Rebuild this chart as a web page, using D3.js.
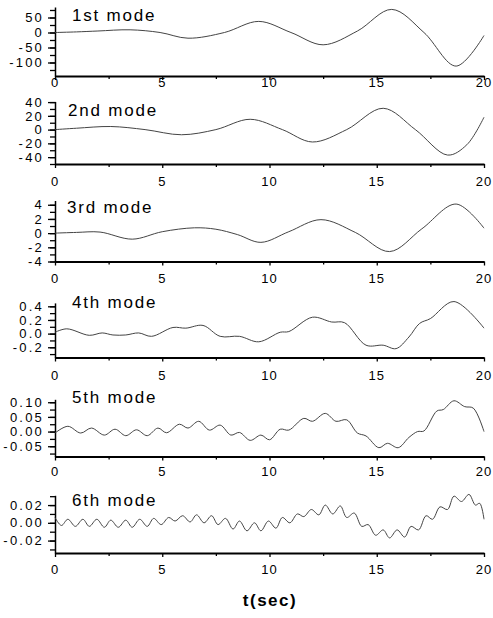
<!DOCTYPE html>
<meta charset="utf-8">
<script src="https://d3js.org/d3.v7.min.js"></script>
<style>
  body { margin: 0; background: #fff; }
  text { font-family: "Liberation Sans", Arial, sans-serif; fill: #000; }
</style>
<svg id="chart" width="493" height="618"></svg>
<script>
  // time axis
  var xTickVals = [0, 5, 10, 15, 20];
  var xMinorVals = [2.5, 7.5, 12.5, 17.5];

  var titles = ["1st mode", "2nd mode", "3rd mode", "4th mode", "5th mode", "6th mode"];

  // y axes: bounds, labelled ticks, minor step
  var yDomains = [[-145, 85], [-50, 41], [-4, 4.6], [-0.35, 0.45], [-0.085, 0.11], [-0.034, 0.031]];
  var yMajor = [[50, 0, -50, -100], [40, 20, 0, -20, -40], [4, 2, 0, -2, -4], [0.4, 0.2, 0, -0.2], [0.1, 0.05, 0, -0.05], [0.02, 0, -0.02]];
  var yLabels = [["50", "0", "-50", "-100"], ["40", "20", "0", "-20", "-40"], ["4", "2", "0", "-2", "-4"],
                 ["0.4", "0.2", "0.0", "-0.2"], ["0.10", "0.05", "0.00", "-0.05"], ["0.02", "0.00", "-0.02"]];
  var yMinorStep = [25, 10, 1, 0.1, 0.025, 0.01];

  // modal responses
  var t1 = [0, 1, 2, 3.5, 4.9, 6.2, 7.9, 9.5, 11.0, 12.5, 14.1, 15.7, 17.2, 18.7, 20];
  var v1 = [0, 2, 5, 9, 0, -19, 0, 37, 0, -41, 5, 77, 0, -112, -10];

  var t2 = [0, 1, 2.6, 4.2, 5.9, 7.5, 9.1, 10.6, 12.0, 13.6, 15.3, 16.8, 18.3, 19.2, 20];
  var v2 = [0, 2, 4.5, 0, -7.5, 0, 15, 0, -18, 0, 31, 0, -37, -22, 18];

  var t3 = [0, 1.0, 2.1, 3.6, 5.0, 6.5, 7.5, 8.5, 9.6, 10.9, 12.4, 14.0, 15.6, 17.1, 18.7, 20];
  var v3 = [0, 0.1, 0.15, -0.85, 0.2, 0.75, 0.55, -0.2, -1.3, 0.2, 1.9, 0.1, -2.6, 0.6, 4.1, 0.7];

  var t4 = [0, 0.55, 1.6, 2.2, 2.7, 3.3, 3.9, 4.5, 5.5, 6.1, 6.9, 7.7, 8.6, 9.5, 10.5, 10.9, 12.0, 12.9, 13.5,
            14.5, 15.3, 15.9, 16.5, 17.0, 17.5, 18.6, 20];
  var v4 = [0.02, 0.07, -0.025, 0.01, -0.02, -0.02, 0.01, -0.04, 0.09, 0.08, 0.12, -0.04, -0.04, -0.12, 0.02, 0.03, 0.24, 0.17, 0.16,
            -0.17, -0.17, -0.22, -0.05, 0.15, 0.22, 0.47, 0.08];

  var t5 = [0, 0.6, 1.2, 1.7, 2.3, 2.8, 3.3, 3.8, 4.3, 4.8, 5.2, 5.8, 6.2, 6.7, 7.2, 7.7, 8.2, 8.6, 9.1, 9.6, 10.0,
            10.5, 10.9, 11.6, 12.0, 12.6, 13.1, 13.6, 14.1, 14.5, 15.1, 15.5, 16.0, 16.5, 16.9, 17.2, 17.8, 18.1,
            18.6, 19.1, 19.5, 20];
  var v5 = [-0.005, 0.018, -0.005, 0.012, -0.012, 0.008, -0.014, 0.006, -0.014, 0.012, -0.004, 0.025, 0.012, 0.035, 0.005,
            0.022, -0.012, -0.003, -0.03, -0.012, -0.028, 0.008, 0.005, 0.045, 0.035, 0.062, 0.035, 0.04, -0.005, -0.015,
            -0.055, -0.04, -0.055, -0.02, 0.0, 0.002, 0.07, 0.075, 0.105, 0.085, 0.08, 0.0];

  var t6 = [0, 0.3, 0.6, 0.95, 1.3, 1.6, 1.95, 2.3, 2.6, 2.95, 3.3, 3.6, 3.95, 4.3, 4.6, 4.95, 5.3, 5.6, 5.95, 6.3,
            6.6, 6.95, 7.3, 7.6, 7.95, 8.3, 8.6, 8.95, 9.3, 9.6, 9.95, 10.3, 10.6, 10.95, 11.3, 11.6, 11.95, 12.3,
            12.6, 12.95, 13.3, 13.6, 13.95, 14.3, 14.6, 14.95, 15.3, 15.6, 15.95, 16.3, 16.6, 16.95, 17.3, 17.6,
            17.95, 18.3, 18.6, 18.95, 19.3, 19.6, 19.8, 20];
  var v6 = [0.006, -0.003, 0.004, -0.004, 0.004, -0.004, 0.004, -0.005, 0.003, -0.005, 0.003, -0.005, 0.004, -0.004,
            0.005, -0.002, 0.006, 0.002, 0.008, 0.001, 0.009, 0.0, 0.008, -0.002, 0.005, -0.007, 0.002, -0.009, 0.0,
            -0.009, 0.002, -0.006, 0.006, 0.0, 0.01, 0.007, 0.015, 0.009, 0.02, 0.01, 0.019, 0.006, 0.011, -0.004,
            -0.002, -0.014, -0.008, -0.017, -0.008, -0.016, -0.004, -0.008, 0.008, 0.004, 0.018, 0.015, 0.03, 0.024,
            0.032, 0.02, 0.022, 0.004];

  var series = [[t1, v1], [t2, v2], [t3, v3], [t4, v4], [t5, v5], [t6, v6]];

  // panel placement (pixels)
  var layout = [
    { bottom: 76, top: 7, lab: 87, tx: 72, ty: 21 },
    { bottom: 164, top: 101.4, lab: 186, tx: 68, ty: 116 },
    { bottom: 261.5, top: 200.5, lab: 283, tx: 67, ty: 213 },
    { bottom: 357.5, top: 302.9, lab: 380, tx: 72, ty: 308 },
    { bottom: 456.5, top: 399.3, lab: 476, tx: 72, ty: 403 },
    { bottom: 553, top: 495.3, lab: 574, tx: 72, ty: 506 }
  ];

  var svg = d3.select("#chart");
  var x = d3.scaleLinear().domain([0, 20]).range([55, 484]);

  series.forEach(function (s, i) {
    var L = layout[i];
    var dom = yDomains[i];
    var y = d3.scaleLinear().domain(dom).range([L.bottom, L.top]);
    var g = svg.append("g");

    // minor y ticks
    var step = yMinorStep[i];
    var minor = d3.range(Math.ceil(dom[0] / step - 1e-9), Math.floor(dom[1] / step + 1e-9) + 1)
      .map(function (k) { return k * step; });
    var gm = g.append("g").attr("transform", "translate(55,0)")
      .call(d3.axisLeft(y).tickValues(minor).tickSize(5).tickSizeOuter(0).tickFormat(""));
    gm.select(".domain").attr("stroke-width", 1.5);
    gm.selectAll(".tick line").attr("stroke-width", 1.3);

    // major y ticks + labels
    var ga = g.append("g").attr("transform", "translate(55,0)")
      .call(d3.axisLeft(y).tickValues(yMajor[i]).tickSize(7).tickPadding(4).tickSizeOuter(0)
        .tickFormat(function (d, k) { return yLabels[i][k]; }));
    ga.select(".domain").remove();
    ga.selectAll(".tick line").attr("stroke-width", 1.3);
    ga.selectAll("text")
      .attr("font-family", "Liberation Sans, Arial, sans-serif")
      .attr("font-size", 13)
      .style("letter-spacing", "2.2px");

    // x axis
    var gx = g.append("g").attr("transform", "translate(0," + L.bottom + ")")
      .call(d3.axisBottom(x).tickValues(xTickVals).tickSize(4).tickSizeOuter(0).tickFormat(""));
    gx.select(".domain").attr("stroke-width", 2.2);
    gx.selectAll(".tick line").attr("stroke-width", 1.3);
    var gx2 = g.append("g").attr("transform", "translate(0," + L.bottom + ")")
      .call(d3.axisBottom(x).tickValues(xMinorVals).tickSize(3).tickSizeOuter(0).tickFormat(""));
    gx2.select(".domain").remove();
    gx2.selectAll(".tick line").attr("stroke-width", 1.3);

    g.selectAll(".xlab")
      .data(xTickVals)
      .enter()
      .append("text")
      .attr("class", "xlab")
      .attr("x", function (d) { return x(d); })
      .attr("y", L.lab)
      .attr("text-anchor", "middle")
      .style("font-size", "13px")
      .style("letter-spacing", "1px")
      .text(function (d) { return d; });

    // mode title
    g.append("text")
      .attr("x", L.tx)
      .attr("y", L.ty)
      .style("font-size", "17px")
      .style("letter-spacing", "1.8px")
      .text(titles[i]);

    // response curve
    var pts = s[0].map(function (t, k) { return [t, s[1][k]]; });
    g.append("path")
      .datum(pts)
      .attr("fill", "none")
      .attr("stroke", "#444")
      .attr("stroke-width", 1)
      .attr("d", d3.line()
        .x(function (d) { return x(d[0]); })
        .y(function (d) { return y(d[1]); })
        .curve(d3.curveCatmullRom.alpha(0.5)));
  });

  svg.append("text")
    .attr("x", 270)
    .attr("y", 606)
    .attr("text-anchor", "middle")
    .style("font-size", "17px")
    .style("font-weight", "bold")
    .style("letter-spacing", "1.5px")
    .text("t(sec)");
</script>
